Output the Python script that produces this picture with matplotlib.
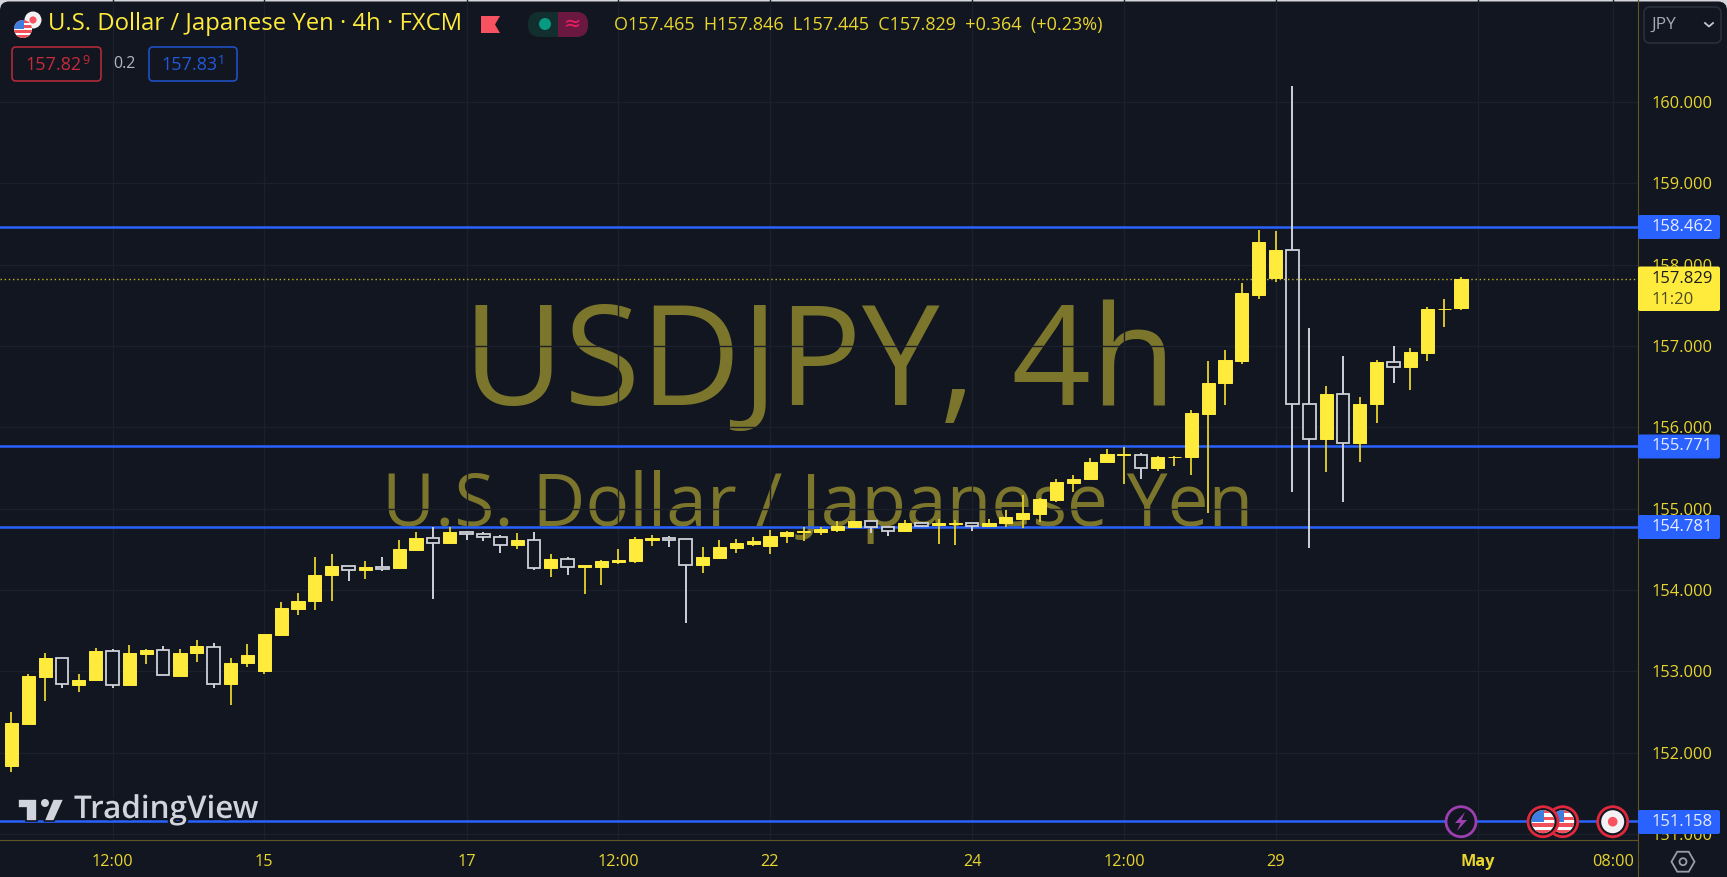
import matplotlib
matplotlib.use('Agg')
import matplotlib.pyplot as plt
import matplotlib.patheffects as pe
from matplotlib.patches import Circle, FancyBboxPatch, Polygon, Rectangle
import numpy as np

plt.rcParams['font.family'] = ['Open Sans', 'DejaVu Sans']

# candles
opens = [151.84, 152.36, 152.93, 153.16, 152.83, 152.89, 153.25, 152.83, 153.22, 153.26,
         152.95, 153.23, 153.30, 152.85, 153.10, 153.01, 153.45, 153.77, 153.86, 154.18,
         154.30, 154.25, 154.29, 154.27, 154.49, 154.64, 154.58, 154.71, 154.69, 154.65,
         154.55, 154.62, 154.27, 154.38, 154.28, 154.28, 154.34, 154.36, 154.61, 154.64,
         154.63, 154.31, 154.40, 154.52, 154.57, 154.54, 154.66, 154.71, 154.72, 154.74,
         154.78, 154.85, 154.77, 154.73, 154.83, 154.80, 154.81, 154.82, 154.785, 154.83,
         154.88, 154.94, 155.11, 155.32, 155.36, 155.57, 155.66, 155.66, 155.50, 155.63,
         155.63, 156.17, 156.54, 156.82, 157.63, 157.84, 158.18, 156.29, 155.86, 156.41,
         155.81, 156.29, 156.80, 156.74, 156.92, 157.45, 157.465]
highs = [152.50, 152.97, 153.23, 153.16, 152.97, 153.29, 153.27, 153.32, 153.27, 153.31,
         153.28, 153.39, 153.35, 153.16, 153.34, 153.46, 153.85, 153.96, 154.41, 154.44,
         154.30, 154.36, 154.41, 154.61, 154.71, 154.77, 154.78, 154.73, 154.71, 154.68,
         154.70, 154.71, 154.44, 154.41, 154.31, 154.37, 154.51, 154.65, 154.68, 154.67,
         154.63, 154.53, 154.61, 154.63, 154.65, 154.74, 154.73, 154.77, 154.78, 154.85,
         154.85, 154.85, 154.79, 154.86, 154.84, 154.87, 154.86, 154.82, 154.87, 154.98,
         155.17, 155.13, 155.37, 155.42, 155.62, 155.74, 155.76, 155.68, 155.65, 155.65,
         156.21, 156.82, 156.95, 157.78, 158.43, 158.42, 160.20, 157.22, 156.51, 156.88,
         156.37, 156.83, 157.00, 156.97, 157.48, 157.58, 157.846]
lows = [151.77, 152.36, 152.64, 152.80, 152.75, 152.89, 152.80, 152.83, 153.09, 152.96,
        152.95, 153.12, 152.80, 152.59, 153.05, 152.97, 153.45, 153.70, 153.76, 153.86,
        154.11, 154.14, 154.23, 154.27, 154.48, 153.89, 154.58, 154.62, 154.60, 154.46,
        154.50, 154.25, 154.16, 154.18, 153.95, 154.06, 154.32, 154.33, 154.54, 154.53,
        153.60, 154.21, 154.40, 154.46, 154.54, 154.44, 154.58, 154.60, 154.68, 154.71,
        154.77, 154.70, 154.66, 154.72, 154.77, 154.57, 154.55, 154.73, 154.77, 154.77,
        154.76, 154.84, 155.08, 155.20, 155.35, 155.56, 155.31, 155.36, 155.47, 155.52,
        155.41, 154.95, 156.27, 156.78, 157.58, 157.79, 155.20, 154.52, 155.45, 155.08,
        155.57, 156.06, 156.55, 156.46, 156.82, 157.23, 157.445]
closes = [152.37, 152.94, 153.16, 152.84, 152.90, 153.25, 152.83, 153.23, 153.26, 152.96,
          153.23, 153.31, 152.85, 153.11, 153.20, 153.46, 153.78, 153.86, 154.19, 154.30,
          154.25, 154.29, 154.26, 154.50, 154.64, 154.58, 154.71, 154.69, 154.65, 154.55,
          154.62, 154.27, 154.38, 154.28, 154.31, 154.36, 154.37, 154.63, 154.64, 154.62,
          154.31, 154.41, 154.53, 154.58, 154.60, 154.67, 154.71, 154.73, 154.75, 154.79,
          154.85, 154.77, 154.73, 154.83, 154.79, 154.82, 154.82, 154.785, 154.83, 154.90,
          154.95, 155.12, 155.33, 155.37, 155.58, 155.67, 155.67, 155.50, 155.64, 155.64,
          156.18, 156.55, 156.83, 157.65, 158.28, 158.18, 156.29, 155.86, 156.41, 155.81,
          156.29, 156.80, 156.74, 156.93, 157.45, 157.46, 157.829]

line_levels = [158.462, 155.771, 154.781, 151.158]
last_price = 157.829
price_ticks = [151, 152, 153, 154, 155, 156, 157, 158, 159, 160]
time_ticks = [6, 15, 27, 36, 45, 57, 66, 75, 87, 95]
time_labels = ['12:00', '15', '17', '12:00', '22', '24', '12:00', '29', 'May', '08:00']

BG = '#121620'
GRID = '#1c202a'
YELLOW = '#ffeb3b'
OLIVE = '#5e5624'
BLUE = '#2962ff'
WHITE_EDGE = '#cfd1d7'
W, H = 1727, 877

fig = plt.figure(figsize=(W / 100, H / 100), dpi=100, facecolor='#d4d6dc')

# background with the rounded top corners
back = fig.add_axes([0, 0, 1, 1], zorder=0)
back.set_xlim(0, W)
back.set_ylim(H, 0)
back.axis('off')
back.add_patch(FancyBboxPatch((0, 1.5), W, H + 30, boxstyle='round,pad=0,rounding_size=9',
                              fc=BG, ec='none'))

# main pane
ax = fig.add_axes([0, (H - 840) / H, 1638 / W, 840 / H], zorder=1)
ax.patch.set_alpha(0)
ax.set_xlim(-0.68, 96.5)
ax.set_ylim(160 - (840 - 102) / 81.35, 160 + 102 / 81.35)
for s in ['top', 'left']:
    ax.spines[s].set_visible(False)
ax.spines['right'].set_color(OLIVE)
ax.spines['bottom'].set_color(OLIVE)
ax.yaxis.tick_right()
ax.set_yticks(price_ticks)
ax.set_yticklabels(['%.3f' % p for p in price_ticks], color='#e8d62e', fontsize=11.8)
ax.set_xticks(time_ticks)
ax.set_xticklabels(time_labels, color='#e8d62e', fontsize=11.7)
ax.get_xticklabels()[8].set_fontweight('bold')
ax.tick_params(axis='both', length=0)
ax.tick_params(axis='x', pad=10)
ax.tick_params(axis='y', pad=9.5)
ax.grid(True, color=GRID, lw=1)
ax.set_axisbelow(True)

# watermark
fig.text(820 / W, 1 - 368 / H, 'USDJPY, 4h', color=YELLOW, alpha=0.45, fontsize=100,
         ha='center', va='center', zorder=0.5)
fig.text(818 / W, 1 - 507 / H, 'U.S. Dollar / Japanese Yen', color=YELLOW, alpha=0.45,
         fontsize=52.5, ha='center', va='center', zorder=0.5)

for lvl in line_levels:
    ax.axhline(lvl, color=BLUE, lw=1.8, zorder=2)

o = np.array(opens)
c = np.array(closes)
hi = np.array(highs)
lo = np.array(lows)
x = np.arange(len(o))
up = c >= o

ax.vlines(x[up], lo[up], hi[up], color='#d8c52c', lw=1.4, zorder=3)
ax.vlines(x[~up], lo[~up], hi[~up], color=WHITE_EDGE, lw=1.4, zorder=3)
ax.bar(x[~up], (o - c)[~up], bottom=c[~up], width=0.74, facecolor=BG, edgecolor=WHITE_EDGE,
       linewidth=1.3, zorder=4)
ax.axhline(last_price, color='#c4b326', lw=1, ls=(0, (1, 2)), zorder=5)
ax.bar(x[up], (c - o)[up], bottom=o[up], width=0.78, facecolor=YELLOW, edgecolor=YELLOW,
       linewidth=0.7, zorder=6)

# everything on top is placed in screen pixels
ui = fig.add_axes([0, 0, 1, 1], zorder=2)
ui.set_xlim(0, W)
ui.set_ylim(H, 0)
ui.axis('off')
ui.patch.set_alpha(0)


def us_flag(cx, cy, r, z=10):
    disc = Circle((cx, cy), r, fc='white', ec='none', zorder=z)
    ui.add_patch(disc)
    step = 2 * r / 7
    for k in range(0, 7, 2):
        st = Rectangle((cx - r, cy - r + k * step), 2 * r, step, fc='#f0505a', ec='none', zorder=z + 1)
        ui.add_patch(st)
        st.set_clip_path(disc)
    can = Rectangle((cx - r, cy - r), r * 1.1, r * 1.0, fc='#3d7fe0', ec='none', zorder=z + 2)
    ui.add_patch(can)
    can.set_clip_path(disc)


def jp_flag(cx, cy, r, z=10):
    ui.add_patch(Circle((cx, cy), r, fc='#f2f2f4', ec='none', zorder=z))
    ui.add_patch(Circle((cx, cy), r * 0.42, fc='#f7525f', ec='none', zorder=z + 1))


def price_box(y0, y1, color):
    ui.add_patch(FancyBboxPatch((1638, y0), 82, y1 - y0, boxstyle='round,pad=0,rounding_size=2',
                                fc=color, ec='none', zorder=8))


# cut off the 151 label at the axis line
ui.add_patch(Rectangle((1639, 841), 88, 36, fc=BG, ec='none', zorder=1))
ui.plot([1638, 1638], [840, 877], color=OLIVE, lw=0.8, zorder=2)

# header
jp_flag(33, 20, 8.5)
us_flag(23, 29, 9, z=12)
ui.text(48, 24, 'U.S. Dollar / Japanese Yen · 4h · FXCM', color=YELLOW, fontsize=17.2,
        fontweight='medium', va='center')
ui.add_patch(Polygon([(481, 16), (500, 16), (495, 24.5), (500, 33), (481, 33)], fc='#f7525f', ec='none'))
ui.add_patch(FancyBboxPatch((528, 12), 60, 25, boxstyle='round,pad=0,rounding_size=12', fc='#122e2f', ec='none'))
right = FancyBboxPatch((528, 12), 60, 25, boxstyle='round,pad=0,rounding_size=12', fc='#6a1840', ec='none')
ui.add_patch(right)
right.set_clip_path(Rectangle((558, 0), 60, 60, transform=ui.transData))
ui.add_patch(Circle((545, 24), 6, fc='#089981', ec='none'))
ui.text(573, 24, '≈', color='#e91e63', fontsize=15, ha='center', va='center', family='DejaVu Sans')
ui.text(614, 25, 'O157.465  H157.846  L157.445  C157.829  +0.364  (+0.23%)', color='#e8d62e',
        fontsize=13, va='center')

ui.add_patch(FancyBboxPatch((12, 47), 89, 34, boxstyle='round,pad=0,rounding_size=4', fc='none', ec='#b02a38', lw=1.2))
ui.text(25, 65, '157.82', color='#c62a3c', fontsize=13, va='center')
ui.text(82, 60, '9', color='#c62a3c', fontsize=9, va='center')
ui.text(124, 64, '0.2', color='#b4b7bf', fontsize=11.5, va='center', ha='center')
ui.add_patch(FancyBboxPatch((149, 47), 88, 34, boxstyle='round,pad=0,rounding_size=4', fc='none', ec='#1e4fc4', lw=1.2))
ui.text(161, 65, '157.83', color='#2358d8', fontsize=13, va='center')
ui.text(218, 60, '1', color='#2358d8', fontsize=9, va='center')

# currency button
ui.add_patch(FancyBboxPatch((1644, 7), 77, 36, boxstyle='round,pad=0,rounding_size=6', fc='none', ec='#2b2f3a', lw=1.2))
ui.text(1651, 25, 'JPY', color='#a6a9b2', fontsize=12.5, va='center')
ui.plot([1705, 1709, 1713], [23, 26.5, 23], color='#c4c6cc', lw=1.3)

# price scale labels
for y0, lvl in zip([215, 434.5, 515, 810], line_levels):
    price_box(y0, y0 + 24, BLUE)
    ui.text(1713, y0 + 12, '%.3f' % lvl, color='#e8ecff', fontsize=12, ha='right', va='center', zorder=9)
price_box(266.5, 311, YELLOW)
ui.text(1652, 279, '157.829', color='#1a1c20', fontsize=12, va='center', zorder=9)
ui.text(1652, 300, '11:20', color='#4c4a20', fontsize=12, va='center', zorder=9)

# logo
halo = [pe.withStroke(linewidth=3, foreground=BG)]
logo_col = '#d1d4dc'
ui.add_patch(Polygon([(18, 799), (37, 799), (37, 821), (26, 821), (26, 808), (18, 808)], fc=logo_col, ec=BG, lw=1.2, zorder=5))
ui.add_patch(Circle((45, 803), 4, fc=logo_col, ec='none', zorder=5))
ui.add_patch(Polygon([(53, 799), (64, 799), (54, 821), (44, 821)], fc=logo_col, ec=BG, lw=1.2, zorder=5))
ui.text(74, 810, 'TradingView', color=logo_col, fontsize=22.6, fontweight='semibold', va='center',
        path_effects=halo, zorder=5)

# event markers on the bottom line
ui.add_patch(Circle((1461, 821.7), 15, fc=BG, ec='#9c3fb0', lw=2, zorder=6))
ui.add_patch(Polygon([(1465, 812), (1455, 823), (1460.5, 823), (1457, 831), (1467, 820), (1461.5, 820)],
                     fc='#9c3fb0', ec='none', zorder=7))
ui.add_patch(Circle((1562.7, 821.7), 15, fc=BG, ec='#e0283c', lw=2, zorder=8))
us_flag(1562.7, 821.7, 11.5, z=9)
ui.add_patch(Circle((1543, 821.7), 15, fc=BG, ec='#e0283c', lw=2, zorder=13))
us_flag(1543, 821.7, 11.5, z=14)
ui.add_patch(Circle((1612.7, 821.7), 15, fc=BG, ec='#e0283c', lw=2, zorder=9))
jp_flag(1612.7, 821.7, 11.5)

# settings gear
ang = np.deg2rad(np.arange(0, 360, 60))
ui.add_patch(Polygon(np.c_[1683 + 11.5 * np.cos(ang), 861.7 + 11.5 * np.sin(ang)], fc='none', ec='#9a9da6', lw=1.3))
ui.add_patch(Circle((1683, 861.7), 3.5, fc='none', ec='#9a9da6', lw=1.3))

plt.savefig('out.png', dpi=100, facecolor=fig.get_facecolor())
